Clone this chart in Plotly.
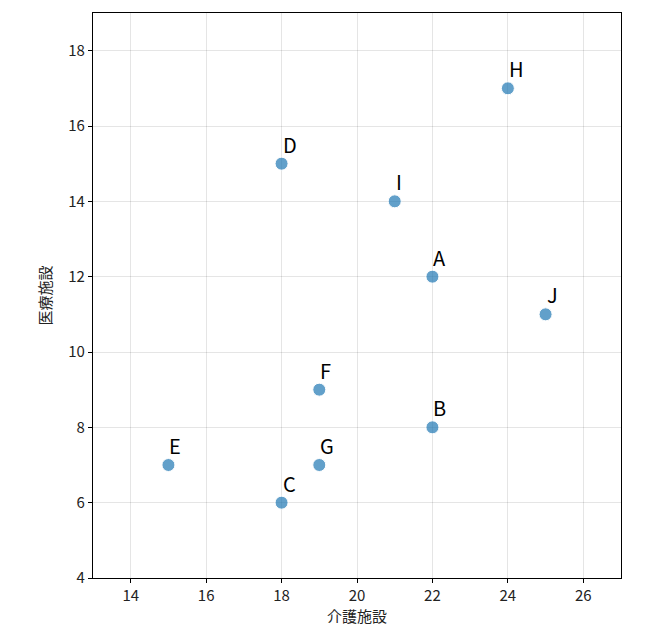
import plotly.graph_objects as go

names = ["A", "B", "C", "D", "E", "F", "G", "H", "I", "J"]
kaigo = [22, 22, 18, 18, 15, 19, 19, 24, 21, 25]
iryo = [12, 8, 6, 15, 7, 9, 7, 17, 14, 11]

font = "Noto Sans CJK JP, DejaVu Sans, sans-serif"

fig = go.Figure()
fig.add_trace(go.Scatter(
    x=kaigo, y=iryo, mode="markers",
    marker=dict(size=13, color="rgba(31,119,180,0.7)", line=dict(width=1, color="white")),
    showlegend=False))

for n, x, y in zip(names, kaigo, iryo):
    fig.add_annotation(x=x, y=y, text=n, showarrow=False, xanchor="left", yanchor="bottom",
                       xshift=-1, yshift=3, font=dict(size=20, color="black", family=font))

axis = dict(showline=True, linecolor="black", linewidth=1.2, mirror=True,
            ticks="outside", ticklen=4, tickcolor="black",
            showgrid=True, gridcolor="rgba(0,0,0,0.1)", zeroline=False,
            tickfont=dict(size=15, color="#222", family=font))
fig.update_xaxes(axis, range=[13, 27], dtick=2, title_text="介護施設",
                 title_font=dict(size=15, color="#222", family=font), title_standoff=6)
fig.update_yaxes(axis, range=[4, 19], dtick=2, title_text="医療施設",
                 title_font=dict(size=15, color="#222", family=font), title_standoff=12)
fig.update_layout(width=647, height=644, paper_bgcolor="white", plot_bgcolor="white",
                  margin=dict(l=85, r=34, t=5, b=74), font=dict(family=font))

fig.write_html("out.html")
